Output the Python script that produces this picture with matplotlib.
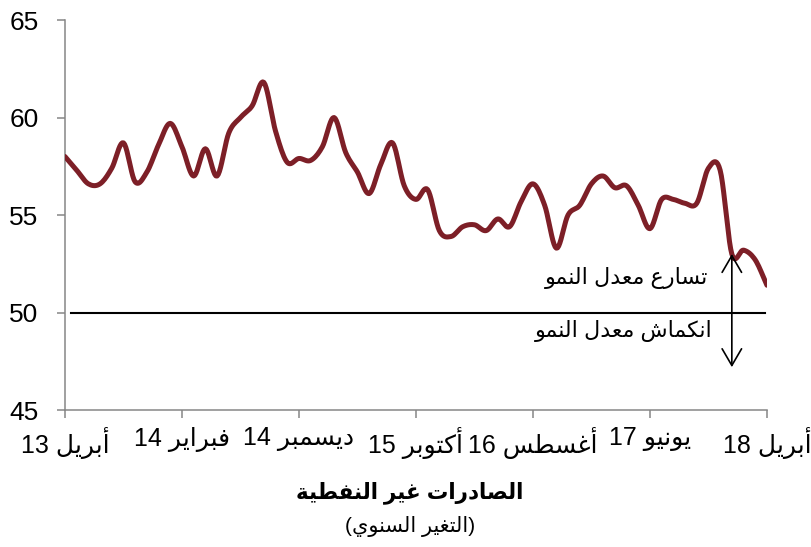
import re
import numpy as np
import matplotlib
matplotlib.use("Agg")
import matplotlib.pyplot as plt

# بيانات: مؤشر الصادرات غير النفطية، شهري من أبريل 2013 إلى أبريل 2018
values = [58.0, 57.3, 56.6, 56.6, 57.4, 58.7, 56.7, 57.2, 58.6, 59.7,
          58.5, 57.0, 58.4, 57.0, 59.2, 60.0, 60.6, 61.8, 59.3, 57.7,
          57.9, 57.8, 58.5, 60.0, 58.2, 57.2, 56.1, 57.6, 58.7, 56.5,
          55.8, 56.3, 54.2, 53.9, 54.4, 54.5, 54.2, 54.8, 54.4, 55.7,
          56.6, 55.5, 53.3, 55.0, 55.5, 56.6, 57.0, 56.4, 56.5, 55.5,
          54.3, 55.8, 55.8, 55.6, 55.6, 57.4, 57.3, 53.0, 53.2, 52.7,
          51.4]
tick_pos = [0, 10, 20, 30, 40, 50, 60]
tick_labels = ["أبريل 13", "فبراير 14", "ديسمبر 14", "أكتوبر 15",
               "أغسطس 16", "يونيو 17", "أبريل 18"]
threshold = 50
title = "الصادرات غير النفطية"
subtitle = "(التغير السنوي)"
up_label = "تسارع معدل النمو"
down_label = "انكماش معدل النمو"

# تشكيل الحروف العربية (matplotlib لا يدعم التشكيل ولا الاتجاه من اليمين لليسار)
_forms = [("\u0621", 0xFE80, 1), ("\u0622", 0xFE81, 2), ("\u0623", 0xFE83, 2),
          ("\u0624", 0xFE85, 2), ("\u0625", 0xFE87, 2), ("\u0626", 0xFE89, 4),
          ("\u0627", 0xFE8D, 2), ("\u0628", 0xFE8F, 4), ("\u0629", 0xFE93, 2),
          ("\u062A", 0xFE95, 4), ("\u062B", 0xFE99, 4), ("\u062C", 0xFE9D, 4),
          ("\u062D", 0xFEA1, 4), ("\u062E", 0xFEA5, 4), ("\u062F", 0xFEA9, 2),
          ("\u0630", 0xFEAB, 2), ("\u0631", 0xFEAD, 2), ("\u0632", 0xFEAF, 2),
          ("\u0633", 0xFEB1, 4), ("\u0634", 0xFEB5, 4), ("\u0635", 0xFEB9, 4),
          ("\u0636", 0xFEBD, 4), ("\u0637", 0xFEC1, 4), ("\u0638", 0xFEC5, 4),
          ("\u0639", 0xFEC9, 4), ("\u063A", 0xFECD, 4), ("\u0641", 0xFED1, 4),
          ("\u0642", 0xFED5, 4), ("\u0643", 0xFED9, 4), ("\u0644", 0xFEDD, 4),
          ("\u0645", 0xFEE1, 4), ("\u0646", 0xFEE5, 4), ("\u0647", 0xFEE9, 4),
          ("\u0648", 0xFEED, 2), ("\u0649", 0xFEEF, 2), ("\u064A", 0xFEF1, 4)]
FORMS = {c: (start, n) for c, start, n in _forms}


def ar(text):
    out = []
    for i, c in enumerate(text):
        if c not in FORMS:
            out.append(c)
            continue
        start, n = FORMS[c]
        prev = text[i - 1] if i > 0 else ""
        nxt = text[i + 1] if i + 1 < len(text) else ""
        jp = prev in FORMS and FORMS[prev][1] == 4
        jn = n == 4 and nxt in FORMS
        if jp and n > 1:
            form = 3 if jn else 1
        else:
            form = 2 if jn else 0
        out.append(chr(start + form))
    vis = "".join(out)[::-1]
    vis = vis.translate({ord("("): ")", ord(")"): "("})
    return re.sub(r"[0-9]+", lambda m: m.group(0)[::-1], vis)


def smooth(x, y, n=10):
    # منحنى Catmull-Rom مثل الخط المنعم في Excel
    x = np.asarray(x, float)
    y = np.asarray(y, float)
    yp = np.concatenate([[2 * y[0] - y[1]], y, [2 * y[-1] - y[-2]]])
    t = np.linspace(0, 1, n, endpoint=False)
    xs, ys = [], []
    for i in range(1, len(x)):
        p0, p1, p2, p3 = yp[i - 1], yp[i], yp[i + 1], yp[i + 2]
        ys.append(0.5 * (2 * p1 + (-p0 + p2) * t + (2 * p0 - 5 * p1 + 4 * p2 - p3) * t ** 2
                         + (-p0 + 3 * p1 - 3 * p2 + p3) * t ** 3))
        xs.append(x[i - 1] + (x[i] - x[i - 1]) * t)
    xs.append([x[-1]])
    ys.append([y[-1]])
    return np.concatenate(xs), np.concatenate(ys)


plt.rcParams["font.family"] = ["Liberation Sans", "DejaVu Sans"]

fig = plt.figure(figsize=(8.12, 5.47), dpi=100)
ax = fig.add_axes([0.080, 0.2504, 0.8645, 0.7130])

months = np.arange(len(values))
sx, sy = smooth(months, values)
ax.plot(sx, sy, color="#7D1F27", linewidth=3.6, solid_capstyle="round", zorder=3)

ax.plot([0.5, 59.8], [threshold, threshold], color="black", linewidth=1.5, zorder=2)
ax.annotate("", xy=(57, 47.2), xytext=(57, values[57]),
            arrowprops=dict(arrowstyle="<->,head_length=0.6,head_width=0.35",
                            color="black", lw=1.2, shrinkA=0, shrinkB=0,
                            mutation_scale=20))
ax.text(55.0, 51.75, ar(up_label), ha="right", va="center", fontsize=16)
ax.text(55.4, 49.05, ar(down_label), ha="right", va="center", fontsize=16)

ax.set_xlim(0, 60)
ax.set_ylim(45, 65)
ax.set_yticks([45, 50, 55, 60, 65])
ax.set_xticks(tick_pos)
ax.set_xticklabels([ar(s) for s in tick_labels])
ax.tick_params(axis="both", direction="out", color="#868686", width=1.1,
               length=6)
ax.tick_params(axis="y", pad=13, labelsize=19)
ax.tick_params(axis="x", pad=6, labelsize=18)
for side in ["top", "right"]:
    ax.spines[side].set_visible(False)
for side in ["left", "bottom"]:
    ax.spines[side].set_color("#868686")
    ax.spines[side].set_linewidth(1.1)

fig.text(0.505, 0.100, ar(title), ha="center", va="center", fontsize=15.5,
         fontweight="bold")
fig.text(0.505, 0.038, ar(subtitle), ha="center", va="center", fontsize=15)

fig.savefig("out.png", dpi=100)
